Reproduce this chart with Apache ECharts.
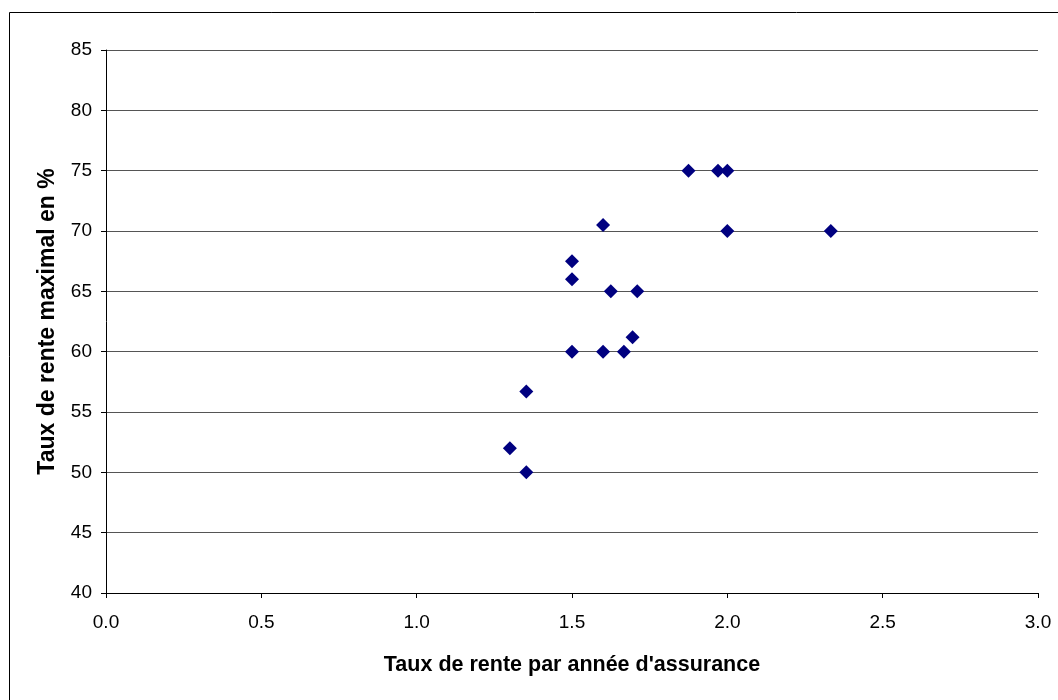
<!DOCTYPE html>
<html>
<head>
<meta charset="utf-8">
<script src="https://cdn.jsdelivr.net/npm/echarts@6/dist/echarts.min.js"></script>
<style>
  html, body { margin: 0; padding: 0; background: #fff; }
  #chart { width: 1058px; height: 700px; }
</style>
</head>
<body>
<div id="chart"></div>
<script>
// Taux de rente par année d'assurance (x) vs taux de rente maximal en % (y)
const rateX = [1.875, 1.97, 2.0, 1.6, 2.0, 2.333, 1.5, 1.5, 1.625, 1.71, 1.695, 1.5, 1.6, 1.667, 1.353, 1.3, 1.353];
const rateY = [75, 75, 75, 70.5, 70, 70, 67.5, 66, 65, 65, 61.2, 60, 60, 60, 56.7, 52, 50];

const xTitle = "Taux de rente par année d'assurance";
const yTitle = 'Taux de rente maximal en %';

const points = rateX.map((x, i) => [x, rateY[i]]);

const FONT = 'Liberation Sans, Arial, sans-serif';

const chart = echarts.init(document.getElementById('chart'));
chart.setOption({
  animation: false,
  backgroundColor: '#ffffff',
  graphic: [{
    type: 'rect',
    x: 0, y: 0,
    shape: { x: 9.5, y: 12.5, width: 1200, height: 800 },
    style: { fill: 'none', stroke: '#000', lineWidth: 1 },
    silent: true
  }],
  grid: { left: 106, right: 20, top: 50, bottom: 107, containLabel: false },
  xAxis: {
    type: 'value', min: 0, max: 3, interval: 0.5,
    axisLine: { show: true, lineStyle: { color: '#000', width: 1 } },
    axisTick: { show: true, length: 5, inside: false, lineStyle: { color: '#000' } },
    axisLabel: { color: '#000', fontFamily: FONT, fontSize: 19, margin: 20,
      formatter: v => v.toFixed(1) },
    splitLine: { show: false },
    name: xTitle, nameLocation: 'middle', nameGap: 61,
    nameTextStyle: { color: '#000', fontFamily: FONT, fontSize: 21.5, fontWeight: 'bold' }
  },
  yAxis: {
    type: 'value', min: 40, max: 85, interval: 5,
    axisLine: { show: true, lineStyle: { color: '#000', width: 1 } },
    axisTick: { show: true, length: 5, inside: false, lineStyle: { color: '#000' } },
    axisLabel: { color: '#000', fontFamily: FONT, fontSize: 19, margin: 14 },
    splitLine: { show: true, lineStyle: { color: '#555', width: 1 } },
    name: yTitle, nameLocation: 'middle', nameGap: 47, nameRotate: 90,
    nameTextStyle: { color: '#000', fontFamily: FONT, fontSize: 23, fontWeight: 'bold' }
  },
  series: [{
    type: 'scatter',
    symbol: 'diamond',
    symbolSize: 14,
    itemStyle: { color: '#000080', opacity: 1 },
    data: points
  }]
});
</script>
</body>
</html>
